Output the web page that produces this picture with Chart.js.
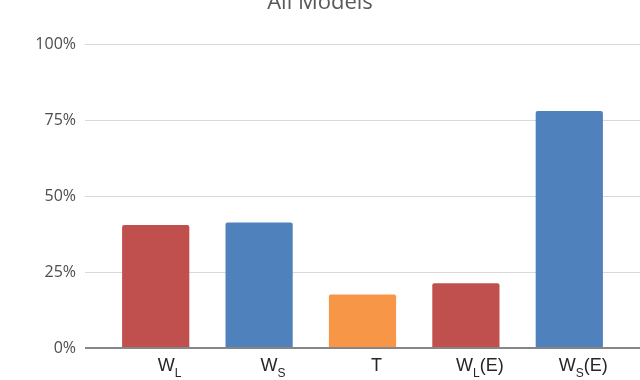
<!DOCTYPE html>
<html>
<head>
<meta charset="utf-8">
<script src="https://cdn.jsdelivr.net/npm/chart.js@4.4.1/dist/chart.umd.min.js"></script>
<style>
  html, body { margin: 0; padding: 0; background: #fff; overflow: hidden; }
  #wrap { width: 640px; height: 380px; overflow: hidden; }
  #chart { display: block; margin-top: -20px; }
</style>
</head>
<body>
<div id="wrap"><canvas id="chart" width="640" height="400"></canvas></div>
<script>
// categories use "_X" for a one-letter subscript
const categories = ['W_L', 'W_S', 'T', 'W_L(E)', 'W_S(E)'];
const values = [40.5, 41.3, 17.6, 21.3, 78.1];
const barColors = ['#C0504D', '#4F81BD', '#F79646', '#C0504D', '#4F81BD'];
const yTicks = [0, 25, 50, 75, 100];

const gridColor = ctx => ctx.tick && ctx.tick.value === 0 ? '#868686' : '#d9d9d9';
const gridWidth = ctx => ctx.tick && ctx.tick.value === 0 ? 2 : 1;

// x labels with subscripts, drawn at the category scale's tick positions
const subLabels = {
  id: 'subLabels',
  afterDraw(chart) {
    const x = chart.scales.x;
    const ctx = chart.ctx;
    const base = chart.chartArea.bottom + 23;
    ctx.save();
    ctx.fillStyle = '#262626';
    ctx.textBaseline = 'alphabetic';
    ctx.textAlign = 'left';
    categories.forEach((lab, i) => {
      const parts = [];
      for (let k = 0; k < lab.length; k++) {
        if (lab[k] === '_') { parts.push({ t: lab[k + 1], sub: true }); k++; }
        else parts.push({ t: lab[k], sub: false });
      }
      let w = 0;
      parts.forEach(p => {
        ctx.font = p.sub ? '12px "Liberation Sans"' : '18px "Liberation Sans"';
        p.w = ctx.measureText(p.t).width;
        w += p.w;
      });
      let px = x.getPixelForTick(i) + 14 - w / 2;
      parts.forEach(p => {
        ctx.font = p.sub ? '12px "Liberation Sans"' : '18px "Liberation Sans"';
        ctx.fillText(p.t, px, p.sub ? base + 6 : base);
        px += p.w;
      });
    });
    ctx.restore();
  }
};

new Chart(document.getElementById('chart'), {
  type: 'bar',
  data: {
    labels: categories,
    datasets: [{
      data: values,
      backgroundColor: barColors,
      borderRadius: 2,
      barPercentage: 0.65,
      categoryPercentage: 1
    }]
  },
  options: {
    responsive: false,
    animation: false,
    layout: { padding: { top: 0, bottom: 24, left: 0, right: 0 } },
    plugins: {
      legend: { display: false },
      tooltip: { enabled: false },
      title: {
        display: true,
        text: 'All Models',
        color: '#595959',
        font: { family: '"Open Sans"', size: 22, weight: 'normal' },
        padding: { top: 10, bottom: 28 }
      }
    },
    scales: {
      x: {
        grid: { display: false },
        border: { display: false },
        ticks: { display: false }
      },
      y: {
        min: 0, max: 100,
        afterBuildTicks: s => { s.ticks = yTicks.map(v => ({ value: v })); },
        afterFit: s => { s.width = 104; },
        border: { display: false },
        grid: { color: gridColor, lineWidth: gridWidth, tickLength: 19 },
        ticks: {
          padding: 9,
          color: '#4d4d4d',
          font: { family: '"Open Sans"', size: 16 },
          callback: v => v + '%'
        }
      },
      y2: {
        position: 'right',
        min: 0, max: 100,
        afterBuildTicks: s => { s.ticks = yTicks.map(v => ({ value: v })); },
        afterFit: s => { s.width = 19; },
        border: { display: false },
        grid: { color: gridColor, lineWidth: gridWidth, tickLength: 19, drawOnChartArea: false },
        ticks: { display: false }
      }
    }
  },
  plugins: [subLabels]
});
</script>
</body>
</html>
